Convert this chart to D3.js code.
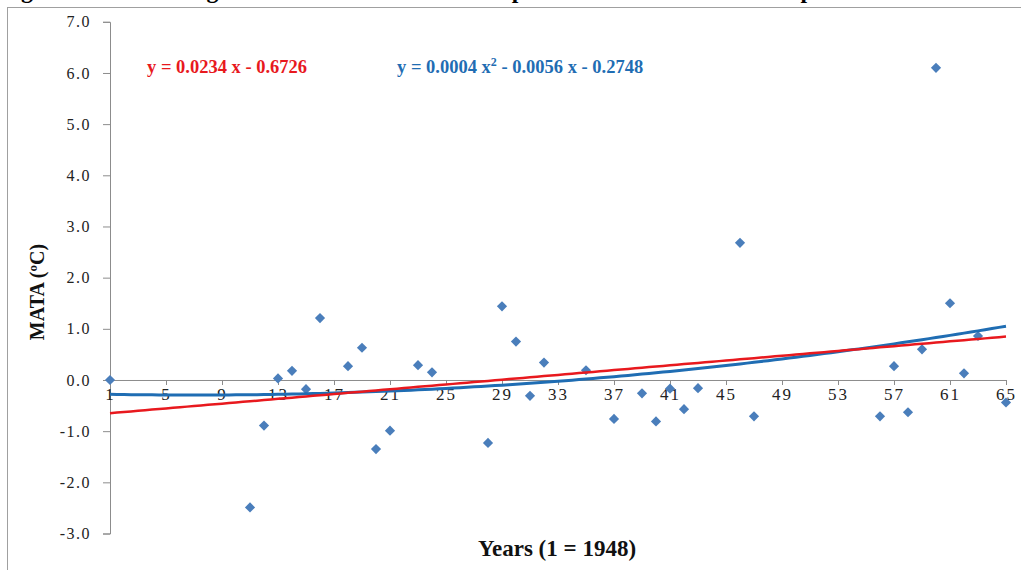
<!DOCTYPE html>
<html>
<head>
<meta charset="utf-8">
<script src="https://cdn.jsdelivr.net/npm/d3@7"></script>
<style>
  html, body { margin: 0; padding: 0; background: #fff; }
  svg { display: block; }
</style>
</head>
<body>
<svg id="chart" width="1021" height="570"></svg>
<script>
// ---- data ----
const years = [1, 11, 12, 13, 14, 15, 16, 18, 19, 20, 21, 23, 24, 28, 29, 30, 31, 32,
  35, 37, 39, 40, 41, 42, 43, 46, 47, 56, 57, 58, 59, 60, 61, 62, 63, 65];
const mata = [0.00, -2.49, -0.89, 0.03, 0.18, -0.18, 1.21, 0.27, 0.63, -1.35, -0.99, 0.29, 0.15, -1.23, 1.44, 0.75, -0.31, 0.34,
  0.19, -0.76, -0.26, -0.81, -0.17, -0.57, -0.16, 2.68, -0.71, -0.71, 0.27, -0.63, 0.60, 6.10, 1.50, 0.13, 0.86, -0.44];
const xTicks = [1, 5, 9, 13, 17, 21, 25, 29, 33, 37, 41, 45, 49, 53, 57, 61, 65];
const yTicks = [-3, -2, -1, 0, 1, 2, 3, 4, 5, 6, 7];
// trend line coefficients shown on the chart
const linearCoef = [0.0234, -0.6726];          // slope, intercept
const polyCoef = [0.0004, -0.0056, -0.2748];   // a, b, c
const linearLabel = "y = 0.0234 x - 0.6726";
const polyLabelParts = ["y = 0.0004 x", "2", " - 0.0056 x - 0.2748"];
const titleText = "Figure 3: General regressions of Saudi surface temperature anomalies over the period 1948-2012";
const xLabel = "Years (1 = 1948)";
const yLabel = "MATA (\u00BAC)";

// ---- drawing ----
const svg = d3.select("#chart");
const serif = "'Liberation Serif', 'Times New Roman', serif";

const x = d3.scaleLinear().domain([1, 65]).range([110, 1006]);
const y = d3.scaleLinear().domain([-3, 7]).range([533.5, 21.8]);

// outer frame
svg.append("rect").attr("x", 7.5).attr("y", 7.5).attr("width", 1100).attr("height", 600)
  .attr("fill", "none").attr("stroke", "#a0a0a0").attr("stroke-width", 1);

// figure title, cut off by the top edge as in the reference
svg.append("text").attr("x", 0).attr("y", -2)
  .attr("font-family", serif).attr("font-size", 24).attr("font-weight", "bold")
  .attr("textLength", 975).attr("lengthAdjust", "spacingAndGlyphs")
  .attr("fill", "#000").text(titleText);

// y axis
const yAxis = d3.axisLeft(y).tickValues(yTicks).tickSize(7).tickPadding(12)
  .tickFormat(d => d.toFixed(1));
const gy = svg.append("g").attr("transform", `translate(${x(1)},0)`).call(yAxis);
gy.select(".domain").attr("stroke", "#8c8c8c");
gy.selectAll(".tick line").attr("stroke", "#8c8c8c");
gy.selectAll(".tick text").attr("font-family", serif).attr("font-size", 16)
  .attr("letter-spacing", "1.5px").attr("fill", "#222");

// x axis crossing at y = 0
const xAxis = d3.axisBottom(x).tickValues(xTicks).tickSize(5).tickPadding(3)
  .tickFormat(d => d);
const gx = svg.append("g").attr("transform", `translate(0,${y(0)})`).call(xAxis);
gx.select(".domain").attr("stroke", "#8c8c8c");
gx.selectAll(".tick line").attr("stroke", "#8c8c8c");
gx.selectAll(".tick text").attr("font-family", serif).attr("font-size", 17)
  .attr("letter-spacing", "2px").attr("fill", "#222");

// axis titles
svg.append("text").attr("transform", `translate(44,292) rotate(-90)`)
  .attr("text-anchor", "middle").attr("font-family", serif).attr("font-size", 20)
  .attr("font-weight", "bold").attr("fill", "#111").text(yLabel);
svg.append("text").attr("x", 557).attr("y", 556)
  .attr("text-anchor", "middle").attr("font-family", serif).attr("font-size", 23)
  .attr("font-weight", "bold").attr("fill", "#111").text(xLabel);

// data points (diamonds)
const diamond = d3.symbol().type(d3.symbolSquare).size(52);
svg.append("g").selectAll("path").data(years.map((yr, i) => [yr, mata[i]]))
  .join("path")
  .attr("d", diamond)
  .attr("transform", d => `translate(${x(d[0])},${y(d[1])}) rotate(45)`)
  .attr("fill", "#4a7ebb");

// trend lines
const grid = d3.range(1, 65.01, 0.5);
const line = d3.line().x(d => x(d[0])).y(d => y(d[1]));
svg.append("path")
  .attr("d", line(grid.map(t => [t, polyCoef[0] * t * t + polyCoef[1] * t + polyCoef[2]])))
  .attr("fill", "none").attr("stroke", "#1f6db3").attr("stroke-width", 3);
svg.append("path")
  .attr("d", line(grid.map(t => [t, linearCoef[0] * t + linearCoef[1]])))
  .attr("fill", "none").attr("stroke", "#e8191e").attr("stroke-width", 2.5);

// equations
svg.append("text").attr("x", 147).attr("y", 73)
  .attr("font-family", serif).attr("font-size", 18.5).attr("font-weight", "bold")
  .attr("fill", "#e8191e").text(linearLabel);
const pt = svg.append("text").attr("x", 397).attr("y", 73)
  .attr("font-family", serif).attr("font-size", 18.5).attr("font-weight", "bold")
  .attr("fill", "#1f6db3");
pt.append("tspan").text(polyLabelParts[0]);
pt.append("tspan").attr("dy", -7).attr("font-size", 12).text(polyLabelParts[1]);
pt.append("tspan").attr("dy", 7).text(polyLabelParts[2]);
</script>
</body>
</html>
